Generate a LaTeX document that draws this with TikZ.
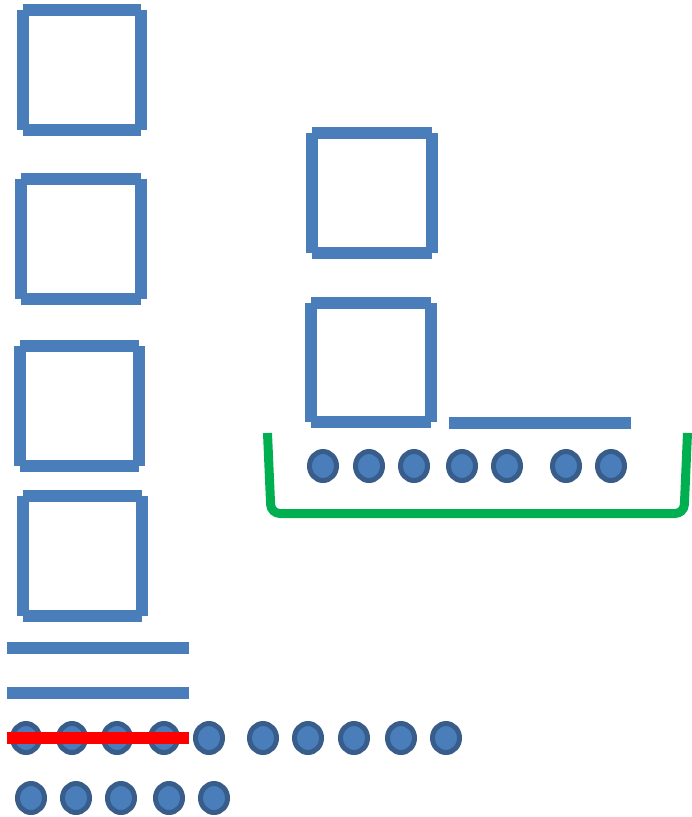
\documentclass[tikz,border=0pt]{standalone}
\definecolor{bl}{HTML}{4A7EBB}
\definecolor{bldark}{HTML}{385D8A}
\definecolor{grn}{HTML}{00B050}
\definecolor{rd}{HTML}{FF0000}
\tikzset{
  bar/.style={draw=bl, line width=12pt, line cap=butt},
  redbar/.style={draw=rd, line width=12pt, line cap=butt},
  dot/.style={draw=bldark, fill=bl, line width=5pt},
  bracket/.style={draw=grn, line width=9pt, rounded corners=9pt},
}
\newcommand\sqbox[4]{%
  \draw[bar] (#1,#2) -- (#3,#2);
  \draw[bar] (#1,#4) -- (#3,#4);
  \draw[bar] (#1,#2) -- (#1,#4);
  \draw[bar] (#3,#2) -- (#3,#4);
}
\newcommand\dotat[2]{\draw[dot] (#1,#2) ellipse [x radius=13.5, y radius=14.5];}
\begin{document}
\begin{tikzpicture}[x=1pt,y=-1pt]
\useasboundingbox (0,0) rectangle (692,817);
% left column squares
\sqbox{22.5}{10}{141}{130}
\sqbox{21}{179}{140.5}{299}
\sqbox{20}{346}{139}{466}
\sqbox{23}{496}{142}{616}
% right squares
\sqbox{312}{133}{432}{253}
\sqbox{311}{303}{431}{422}
% bars
\draw[bar] (7,648) -- (189,648);
\draw[bar] (7,693) -- (189,693);
\draw[bar] (449,423) -- (631,423);
% dots row 1
\foreach \x in {26,72,117,164,209,263,308,354,401,446} {\dotat{\x}{738}}
% red bar over dots
\draw[redbar] (7,738) -- (189,738);
% dots row 2
\foreach \x in {31,76,121,169,214} {\dotat{\x}{798}}
% right dots
\foreach \x in {323,369,414,462,507,566,611} {\dotat{\x}{466}}
% green bracket
\draw[bracket] (267.5,433) -- (271,513.5) -- (684,513.5) -- (687.5,433);
\end{tikzpicture}
\end{document}
